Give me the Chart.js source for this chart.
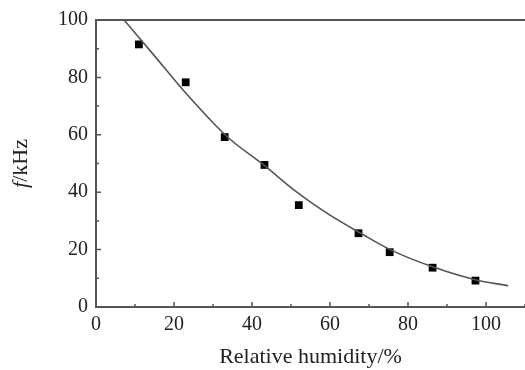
<!DOCTYPE html>
<html>
<head>
<meta charset="utf-8">
<title>f vs relative humidity</title>
<script src="https://cdn.jsdelivr.net/npm/chart.js@4.4.1/dist/chart.umd.min.js"></script>
<style>
    html, body { margin: 0; padding: 0; background: #fff; }
    #wrap { width: 525px; height: 370px; position: relative; }
</style>
</head>
<body>
<div id="wrap"><canvas id="humidity"></canvas></div>
<script>
"use strict";

// measured points (relative humidity %, frequency kHz)
var humidity = [11, 23, 33, 43.2, 52, 67.3, 75.3, 86.3, 97.3];
var frequency = [91.5, 78.3, 59.2, 49.5, 35.5, 25.7, 19.1, 13.7, 9.2];

// fitted curve
var fitHumidity = [7.2, 15, 22.4, 33.5, 43, 51.5, 60, 68, 75.4, 86.5, 97.2, 105.7];
var fitFrequency = [100, 87.5, 75.5, 59.5, 49.5, 40, 32, 25.6, 20, 13.9, 9.5, 7.4];

var xTicks = [0, 20, 40, 60, 80, 100];
var yTicks = [0, 20, 40, 60, 80, 100];

var axisColor = "#555";
var textColor = "#222";
var serif = "'Liberation Serif', 'Times New Roman', serif";

function pairs(xs, ys) {
    var out = [];
    for (var i = 0; i < xs.length; i++) out.push({x: xs[i], y: ys[i]});
    return out;
}

// inward ticks, top frame line and the y title with the italic f
var framePlugin = {
    id: "frame",
    afterDraw: function(chart) {
        var ctx = chart.ctx;
        var area = chart.chartArea;
        var xs = chart.scales.x, ys = chart.scales.y;
        ctx.save();
        ctx.strokeStyle = axisColor;
        ctx.lineWidth = 2;
        ctx.beginPath();
        ctx.moveTo(area.left - 1, area.top);
        ctx.lineTo(area.right, area.top);
        ctx.stroke();

        ctx.lineWidth = 1.5;
        ctx.beginPath();
        for (var v = 0; v <= xs.max; v += 10) {
            var px = xs.getPixelForValue(v);
            var len = (v % 20 === 0) ? 5 : 3;
            ctx.moveTo(px, area.bottom);
            ctx.lineTo(px, area.bottom - len);
        }
        for (var w = 0; w <= ys.max; w += 10) {
            var py = ys.getPixelForValue(w);
            var l2 = (w % 20 === 0) ? 5 : 3;
            ctx.moveTo(area.left, py);
            ctx.lineTo(area.left + l2, py);
        }
        ctx.stroke();

        // y title
        ctx.translate(21, (area.top + area.bottom) / 2);
        ctx.rotate(-Math.PI / 2);
        ctx.fillStyle = textColor;
        ctx.textBaseline = "middle";
        ctx.font = "italic 22px " + serif;
        var fW = ctx.measureText("f").width;
        ctx.font = "22px " + serif;
        var restW = ctx.measureText("/kHz").width;
        var start = -(fW + restW) / 2;
        ctx.font = "italic 22px " + serif;
        ctx.textAlign = "left";
        ctx.fillText("f", start, 0);
        ctx.font = "22px " + serif;
        ctx.fillText("/kHz", start + fW, 0);
        ctx.restore();
    }
};

new Chart(document.getElementById("humidity").getContext("2d"), {
    type: "scatter",
    data: {
        datasets: [
            {
                label: "fit",
                data: pairs(fitHumidity, fitFrequency),
                showLine: true,
                borderColor: "#555",
                borderWidth: 1.6,
                pointRadius: 0,
                cubicInterpolationMode: "monotone",
                fill: false
            },
            {
                label: "measured",
                data: pairs(humidity, frequency),
                pointStyle: "rect",
                pointRadius: 5.5,
                backgroundColor: "#000",
                borderColor: "#000",
                borderWidth: 0
            }
        ]
    },
    options: {
        responsive: true,
        maintainAspectRatio: false,
        animation: false,
        layout: {autoPadding: false, padding: {top: 20, right: 0, left: 0, bottom: 0}},
        plugins: {
            legend: {display: false},
            tooltip: {enabled: false}
        },
        scales: {
            x: {
                type: "linear",
                min: 0,
                max: 110,
                afterFit: function(scale) {
                    scale.height = 63;
                    scale.paddingLeft = 0;
                    scale.paddingRight = 0;
                },
                afterBuildTicks: function(scale) {
                    scale.ticks = xTicks.map(function(v) { return {value: v}; });
                },
                grid: {display: false, drawTicks: false},
                border: {display: true, color: axisColor, width: 2},
                ticks: {
                    padding: 6,
                    color: textColor,
                    font: {family: serif, size: 20}
                },
                title: {
                    display: true,
                    text: "Relative humidity/%",
                    color: textColor,
                    padding: {top: 0, bottom: 0},
                    font: {family: serif, size: 22}
                }
            },
            y: {
                type: "linear",
                min: 0,
                max: 100,
                afterFit: function(scale) {
                    scale.width = 96;
                    scale.paddingTop = 0;
                    scale.paddingBottom = 0;
                },
                afterBuildTicks: function(scale) {
                    scale.ticks = yTicks.map(function(v) { return {value: v}; });
                },
                grid: {display: false, drawTicks: false},
                border: {display: true, color: axisColor, width: 2},
                ticks: {
                    padding: 8,
                    color: textColor,
                    font: {family: serif, size: 20}
                }
            }
        }
    },
    plugins: [framePlugin]
});
</script>
</body>
</html>
